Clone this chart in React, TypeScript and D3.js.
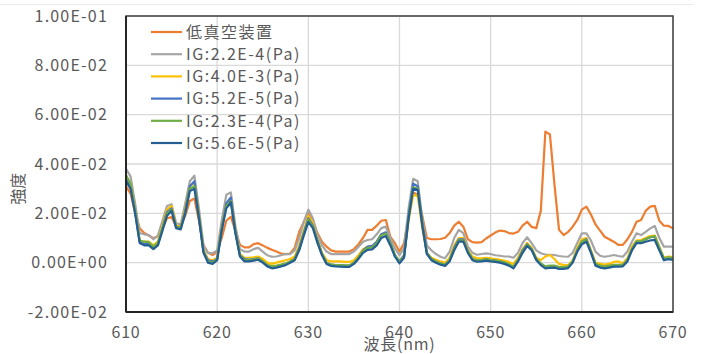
import * as d3 from "d3";

const wavelengths = d3.range(610, 670.25, 0.5);

const lowVacuum = [
  0.031, 0.028, 0.02, 0.014, 0.012, 0.011, 0.0099, 0.0107, 0.014, 0.018,
  0.0185, 0.0146, 0.015, 0.019, 0.025, 0.026, 0.017, 0.007, 0.004, 0.0031,
  0.0045, 0.01, 0.017, 0.0186, 0.013, 0.0072, 0.0062, 0.0062, 0.0075, 0.0079,
  0.007, 0.006, 0.0052, 0.0045, 0.0037, 0.0035, 0.0037, 0.006, 0.0125, 0.0165,
  0.02, 0.0165, 0.012, 0.0085, 0.0065, 0.005, 0.0045, 0.0045, 0.0045, 0.0045,
  0.0055, 0.0075, 0.01, 0.0133, 0.0133, 0.015, 0.017, 0.0173, 0.0105, 0.0079,
  0.0045, 0.008, 0.019, 0.0285, 0.0275, 0.019, 0.01, 0.0095, 0.0095, 0.0096,
  0.0101, 0.012, 0.015, 0.0166, 0.0146, 0.0095, 0.0083, 0.0081, 0.0083, 0.0098,
  0.011, 0.0122, 0.013, 0.0128, 0.012, 0.0118, 0.0125, 0.015, 0.0166, 0.0145,
  0.014, 0.021, 0.0531, 0.052, 0.0316, 0.0133, 0.0112, 0.0125, 0.0146, 0.0173,
  0.0215, 0.0227, 0.0195, 0.0155, 0.013, 0.0105, 0.0095, 0.0085, 0.0072, 0.0072,
  0.0095, 0.0125, 0.0166, 0.0173, 0.021, 0.0227, 0.023, 0.017, 0.015, 0.0149,
  0.0139,
];

const ig22e4 = [
  0.038, 0.035, 0.024, 0.012, 0.0115, 0.0112, 0.0095, 0.011, 0.017, 0.023,
  0.0237, 0.016, 0.0155, 0.024, 0.033, 0.0353, 0.022, 0.007, 0.004, 0.0038,
  0.005, 0.017, 0.0275, 0.0285, 0.015, 0.0055, 0.0045, 0.0045, 0.0055, 0.006,
  0.0045, 0.003, 0.0024, 0.0025, 0.003, 0.0035, 0.0035, 0.005, 0.01, 0.0165,
  0.0215, 0.018, 0.0115, 0.007, 0.0045, 0.0035, 0.0035, 0.0035, 0.0035, 0.0035,
  0.0045, 0.0065, 0.0085, 0.0092, 0.0095, 0.0115, 0.014, 0.0146, 0.01, 0.0058,
  0.003, 0.006, 0.022, 0.034, 0.033, 0.018, 0.007, 0.005, 0.0035, 0.0024,
  0.0018, 0.0045, 0.01, 0.0133, 0.012, 0.0065, 0.004, 0.0032, 0.0035, 0.0038,
  0.0035, 0.003, 0.0028, 0.0025, 0.0025, 0.002, 0.004, 0.008, 0.0103, 0.0079,
  0.005, 0.0038, 0.0033, 0.0032, 0.0031, 0.0027, 0.0025, 0.0024, 0.004, 0.008,
  0.0119, 0.0119, 0.009, 0.0045, 0.0028, 0.0024, 0.0027, 0.0031, 0.0027, 0.0024,
  0.0045, 0.0085, 0.0119, 0.0112, 0.0125, 0.0139, 0.0149, 0.01, 0.0065, 0.0065,
  0.0065,
];

const ig40e3 = [
  0.035, 0.032, 0.021, 0.009, 0.0085, 0.0085, 0.007, 0.0085, 0.015, 0.0215,
  0.023, 0.015, 0.0145, 0.022, 0.031, 0.0325, 0.0195, 0.005, 0.0015, 0.001,
  0.002, 0.0145, 0.024, 0.026, 0.013, 0.0035, 0.002, 0.002, 0.0022, 0.0025,
  0.0015, 0.0, -0.0005, 0.0, 0.0005, 0.001, 0.0015, 0.0025, 0.007, 0.013,
  0.019, 0.016, 0.0095, 0.004, 0.001, 0.0005, 0.0005, 0.0005, 0.0003, 0.0003,
  0.001, 0.003, 0.0055, 0.0065, 0.0065, 0.0085, 0.0115, 0.012, 0.008, 0.003,
  0.0005, 0.003, 0.017, 0.0275, 0.027, 0.014, 0.004, 0.002, 0.0012, 0.0005,
  0.0, 0.002, 0.007, 0.01, 0.01, 0.005, 0.0025, 0.0018, 0.0018, 0.002,
  0.0018, 0.0015, 0.0012, 0.0008, 0.0003, -0.0005, 0.002, 0.0055, 0.008, 0.006,
  0.002, 0.001, 0.0025, 0.0031, 0.0015, -0.0005, -0.001, -0.001, 0.001, 0.006,
  0.0095, 0.01, 0.005, 0.0, -0.0005, -0.0008, -0.0005, 0.0003, 0.0005, -0.0002,
  0.0018, 0.0065, 0.009, 0.0092, 0.01, 0.0108, 0.011, 0.0065, 0.002, 0.0025,
  0.0023,
];

const ig52e5 = [
  0.034, 0.031, 0.0205, 0.0085, 0.0075, 0.0075, 0.006, 0.0075, 0.014, 0.0205,
  0.022, 0.0145, 0.014, 0.021, 0.031, 0.033, 0.019, 0.0045, 0.001, 0.0005,
  0.0015, 0.014, 0.024, 0.0265, 0.0125, 0.003, 0.0015, 0.0012, 0.0015, 0.0018,
  0.0005, -0.001, -0.0018, -0.0015, -0.001, -0.0005, 0.0005, 0.0015, 0.006, 0.012,
  0.018, 0.015, 0.009, 0.0035, 0.0, -0.0008, -0.001, -0.0011, -0.0012, -0.0012,
  0.0, 0.002, 0.005, 0.0065, 0.0068, 0.0085, 0.0115, 0.0123, 0.008, 0.003,
  0.0005, 0.003, 0.019, 0.032, 0.031, 0.016, 0.004, 0.0015, 0.0005, -0.0003,
  -0.0008, 0.001, 0.006, 0.0095, 0.0095, 0.0045, 0.0015, 0.001, 0.001, 0.0013,
  0.001, 0.0008, 0.0005, 0.0, -0.0007, -0.0018, 0.001, 0.005, 0.0075, 0.0055,
  0.0015, -0.0005, -0.0018, -0.0015, -0.0015, -0.0018, -0.002, -0.0017, 0.0005, 0.005,
  0.0085, 0.0095, 0.0045, -0.0007, -0.0015, -0.0018, -0.0015, -0.0011, -0.001, -0.001,
  0.001, 0.0055, 0.0085, 0.0085, 0.0095, 0.0103, 0.0105, 0.006, 0.0015, 0.002,
  0.0017,
];

const ig23e4 = [
  0.0355, 0.032, 0.021, 0.009, 0.0085, 0.0083, 0.0065, 0.008, 0.014, 0.02,
  0.0215, 0.0145, 0.014, 0.0205, 0.03, 0.031, 0.0185, 0.0045, 0.0005, 0.0,
  0.0015, 0.0135, 0.023, 0.025, 0.0125, 0.003, 0.001, 0.001, 0.0013, 0.0017,
  0.0005, -0.001, -0.0015, -0.0012, -0.0008, -0.0003, 0.0005, 0.0015, 0.0055, 0.0115,
  0.0175, 0.0145, 0.0085, 0.0035, 0.0, -0.0008, -0.001, -0.001, -0.0011, -0.0011,
  0.0, 0.002, 0.0048, 0.006, 0.0062, 0.008, 0.011, 0.0118, 0.0078, 0.003,
  0.0003, 0.0025, 0.0185, 0.0305, 0.03, 0.0155, 0.004, 0.0015, 0.0005, -0.0003,
  -0.0008, 0.001, 0.0055, 0.009, 0.009, 0.0045, 0.0015, 0.001, 0.001, 0.0013,
  0.001, 0.0008, 0.0005, 0.0, -0.0006, -0.0016, 0.001, 0.0045, 0.0073, 0.0055,
  0.0015, -0.0003, -0.0015, -0.0012, -0.0012, -0.0018, -0.0018, -0.0015, 0.0005, 0.005,
  0.0085, 0.0093, 0.0045, -0.0005, -0.0012, -0.0015, -0.0012, -0.0009, -0.0009, -0.0008,
  0.001, 0.0055, 0.0085, 0.0087, 0.0095, 0.0103, 0.0108, 0.006, 0.0018, 0.0022,
  0.002,
];

const ig56e5 = [
  0.033, 0.03, 0.02, 0.008, 0.007, 0.007, 0.0055, 0.007, 0.013, 0.019,
  0.021, 0.014, 0.0135, 0.02, 0.029, 0.03, 0.018, 0.004, 0.0, -0.0005,
  0.001, 0.013, 0.022, 0.0245, 0.012, 0.0025, 0.0005, 0.0005, 0.0008, 0.0012,
  0.0, -0.0015, -0.0023, -0.002, -0.0015, -0.001, 0.0, 0.001, 0.005, 0.011,
  0.0165, 0.014, 0.008, 0.003, -0.0005, -0.0013, -0.0015, -0.0016, -0.0017, -0.0017,
  -0.0005, 0.0015, 0.004, 0.0052, 0.0054, 0.007, 0.01, 0.0108, 0.007, 0.0024,
  -0.0003, 0.002, 0.018, 0.03, 0.0295, 0.015, 0.0035, 0.001, 0.0, -0.0008,
  -0.0013, 0.0005, 0.005, 0.0085, 0.0085, 0.004, 0.001, 0.0004, 0.0005, 0.0008,
  0.0005, 0.0003, 0.0, -0.0005, -0.0012, -0.0023, 0.0005, 0.004, 0.0068, 0.005,
  0.0011, -0.001, -0.0023, -0.0021, -0.002, -0.0025, -0.0025, -0.0022, 0.0, 0.0045,
  0.0075, 0.0085, 0.004, -0.0012, -0.002, -0.0023, -0.002, -0.0016, -0.0016, -0.0015,
  0.0005, 0.005, 0.0079, 0.0079, 0.0085, 0.009, 0.0092, 0.005, 0.001, 0.0014,
  0.0011,
];

const seriesNames = [
  "低真空装置",
  "IG:2.2E-4(Pa)",
  "IG:4.0E-3(Pa)",
  "IG:5.2E-5(Pa)",
  "IG:2.3E-4(Pa)",
  "IG:5.6E-5(Pa)",
];
const seriesValues = [lowVacuum, ig22e4, ig40e3, ig52e5, ig23e4, ig56e5];
const seriesColors = ["#ED7D31", "#A5A5A5", "#FFC000", "#4472C4", "#70AD47", "#255E91"];

const xTicks = [610, 620, 630, 640, 650, 660, 670];
const yTicks = [-0.02, 0, 0.02, 0.04, 0.06, 0.08, 0.1];

const W = 704;
const H = 354;
const margin = { left: 126, right: 31, top: 16, bottom: 42 };
const FONT = "'Noto Sans CJK JP', 'Noto Sans', sans-serif";
const textColor = "#595959";

const fmtSci = (v: number) => {
  const [m, e] = v.toExponential(2).split("e");
  const sign = e[0] === "-" ? "-" : "+";
  const digits = e.replace(/[+-]/, "").padStart(2, "0");
  return `${m}E${sign}${digits}`;
};

export default function App() {
  const x = d3
    .scaleLinear()
    .domain([610, 670])
    .range([margin.left, W - margin.right]);
  const y = d3
    .scaleLinear()
    .domain([-0.02, 0.1])
    .range([H - margin.bottom, margin.top]);

  const line = d3
    .line<number>()
    .x((_, i) => x(wavelengths[i]))
    .y((d) => y(d));

  const x0 = x.range()[0];
  const x1 = x.range()[1];
  const yTop = y.range()[1];
  const yBot = y.range()[0];

  return (
    <div style={{ position: "absolute", left: 0, top: 0 }}>
      <svg width={W} height={H} style={{ display: "block", background: "#fff" }}>
        <line x1={0} x2={694} y1={4.5} y2={4.5} stroke="#ececec" strokeWidth={1} />
        {/* grid */}
        {yTicks.map((t) => (
          <line key={"gy" + t} x1={x0} x2={x1} y1={y(t)} y2={y(t)} stroke="#d9d9d9" strokeWidth={1.3} />
        ))}
        {xTicks.map((t) => (
          <line key={"gx" + t} x1={x(t)} x2={x(t)} y1={yTop} y2={yBot} stroke="#d9d9d9" strokeWidth={1.3} />
        ))}

        {/* series */}
        {seriesValues.map((vals, i) => (
          <path
            key={seriesNames[i]}
            d={line(vals) || ""}
            fill="none"
            stroke={seriesColors[i]}
            strokeWidth={2.2}
            strokeLinejoin="round"
          />
        ))}

        {/* frame */}
        <rect x={x0} y={yTop} width={x1 - x0} height={yBot - yTop} fill="none" stroke="#404040" strokeWidth={1.5} />
        <line x1={x0} x2={x0} y1={yTop} y2={yBot} stroke="#262626" strokeWidth={2} />
        <line x1={x0} x2={x1} y1={yBot} y2={yBot} stroke="#262626" strokeWidth={2} />

        {/* y tick labels */}
        {yTicks.map((t) => (
          <text
            key={"ty" + t}
            x={108}
            y={y(t)}
            dy="0.36em"
            textAnchor="end"
            fontFamily={FONT}
            fontSize={16}
            letterSpacing={1.2}
            fill={textColor}
          >
            {fmtSci(t)}
          </text>
        ))}

        {/* x tick labels */}
        {xTicks.map((t) => (
          <text
            key={"tx" + t}
            x={x(t)}
            y={338}
            textAnchor="middle"
            fontFamily={FONT}
            fontSize={16}
            letterSpacing={0.8}
            fill={textColor}
          >
            {t}
          </text>
        ))}

        {/* axis titles */}
        <text
          x={(x0 + x1) / 2}
          y={350}
          textAnchor="middle"
          fontFamily={FONT}
          fontSize={16}
          letterSpacing={0.8}
          fill={textColor}
        >
          波長(nm)
        </text>
        <text
          transform={`translate(24,${(y(0.04) + y(0.02)) / 2}) rotate(-90)`}
          textAnchor="middle"
          fontFamily={FONT}
          fontSize={16}
          fill={textColor}
        >
          強度
        </text>

        {/* legend */}
        {seriesNames.map((name, i) => {
          const ly = 32 + i * 22.2;
          return (
            <g key={"lg" + name}>
              <line x1={151} x2={182} y1={ly} y2={ly} stroke={seriesColors[i]} strokeWidth={2.2} />
              <text
                x={186}
                y={ly}
                dy="0.36em"
                fontFamily={FONT}
                fontSize={16}
                letterSpacing={1.5}
                fill={textColor}
              >
                {name}
              </text>
            </g>
          );
        })}
      </svg>
    </div>
  );
}
